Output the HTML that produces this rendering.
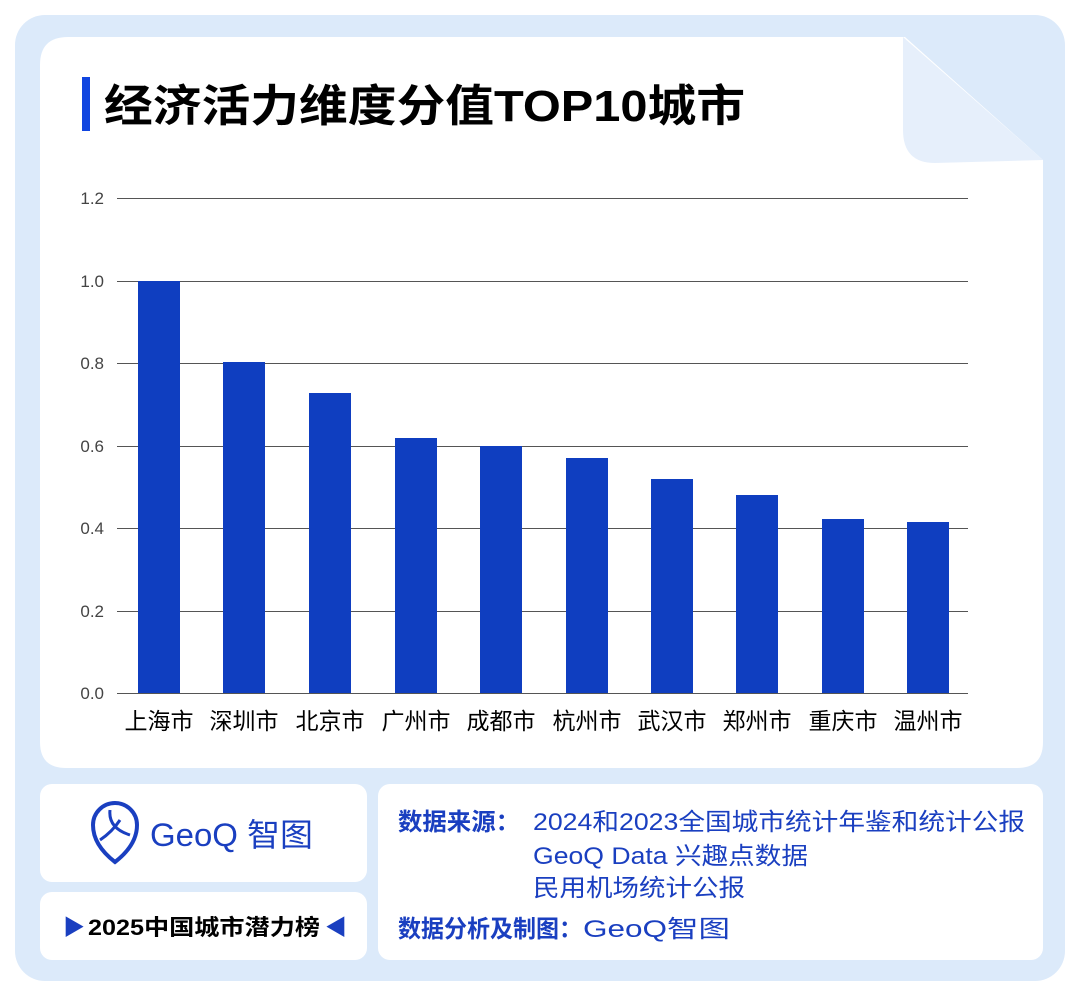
<!DOCTYPE html><html><head><meta charset="utf-8"><style>
body{margin:0;width:1080px;height:995px;background:#fff;position:relative;font-family:"Liberation Sans","Noto Sans CJK SC",sans-serif;overflow:hidden}
.a{position:absolute}
</style></head><body>
<div class="a" style="left:15px;top:15px;width:1050px;height:966px;background:#dceafa;border-radius:30px"></div>
<svg class="a" style="left:0;top:0" width="1080" height="995">
<path d="M68,37 L905,37 L1043,160 L1043,742 Q1043,768 1017,768 L66,768 Q40,768 40,742 L40,65 Q40,37 68,37Z" fill="#fff"/>
<path d="M903,37 L1043,160 L935,163 Q903,163 903,130Z" fill="#e6effb"/>
<rect x="82" y="77" width="8" height="54" fill="#1045e0"/>
<text x="104" y="121" font-size="44" font-weight="bold" fill="#000" textLength="641" lengthAdjust="spacingAndGlyphs" font-family="Liberation Sans,Noto Sans CJK SC,sans-serif">经济活力维度分值TOP10城市</text>
<g stroke="#555" stroke-width="1">
<line x1="117" y1="198.5" x2="968" y2="198.5"/><line x1="117" y1="281.5" x2="968" y2="281.5"/><line x1="117" y1="363.5" x2="968" y2="363.5"/><line x1="117" y1="446.5" x2="968" y2="446.5"/><line x1="117" y1="528.5" x2="968" y2="528.5"/><line x1="117" y1="611.5" x2="968" y2="611.5"/><line x1="117" y1="693.5" x2="968" y2="693.5"/>
</g>
<g font-size="17" fill="#444" text-anchor="end" font-family="Liberation Sans,sans-serif">
<text x="104" y="204">1.2</text><text x="104" y="287">1.0</text><text x="104" y="369">0.8</text><text x="104" y="452">0.6</text><text x="104" y="534">0.4</text><text x="104" y="617">0.2</text><text x="104" y="699">0.0</text>
</g>
<g fill="#0f3ec0">
<rect x="138" y="281" width="42" height="412"/><rect x="223" y="362" width="42" height="331"/><rect x="309" y="393" width="42" height="300"/><rect x="395" y="438" width="42" height="255"/><rect x="480" y="446" width="42" height="247"/><rect x="566" y="458" width="42" height="235"/><rect x="651" y="479" width="42" height="214"/><rect x="736" y="495" width="42" height="198"/><rect x="822" y="519" width="42" height="174"/><rect x="907" y="522" width="42" height="171"/>
</g>
<g font-size="23" fill="#000" text-anchor="middle" font-family="Liberation Sans,Noto Sans CJK SC,sans-serif">
<text x="159" y="729">上海市</text><text x="244" y="729">深圳市</text><text x="330" y="729">北京市</text><text x="416" y="729">广州市</text><text x="501" y="729">成都市</text><text x="587" y="729">杭州市</text><text x="672" y="729">武汉市</text><text x="757" y="729">郑州市</text><text x="843" y="729">重庆市</text><text x="928" y="729">温州市</text>
</g>
<rect x="40" y="784" width="327" height="98" rx="12" fill="#fff"/>
<rect x="40" y="892" width="327" height="68" rx="12" fill="#fff"/>
<rect x="378" y="784" width="665" height="176" rx="12" fill="#fff"/>
<path d="M115,803 A22,22 0 0 1 137,825 Q137,845 115,862 Q93,845 93,825 A22,22 0 0 1 115,803Z" fill="none" stroke="#1a3fc0" stroke-width="4"/>
<path d="M110,810 Q108,828 130,835 M100,840 Q112,832 120,820" fill="none" stroke="#1a3fc0" stroke-width="3"/>
<text x="150" y="846" font-size="32" fill="#1a3fc0" textLength="163" lengthAdjust="spacingAndGlyphs" font-family="Liberation Sans,Noto Sans CJK SC,sans-serif">GeoQ 智图</text>
<text x="63" y="935" font-size="22" fill="#1a3fc0">▶</text>
<text x="88" y="935" font-size="22" font-weight="bold" fill="#000" textLength="232" lengthAdjust="spacingAndGlyphs" font-family="Liberation Sans,Noto Sans CJK SC,sans-serif">2025中国城市潜力榜</text>
<text x="325" y="935" font-size="22" fill="#1a3fc0">◀</text>
<g font-size="24" fill="#1a3fc0" font-family="Liberation Sans,Noto Sans CJK SC,sans-serif" lengthAdjust="spacingAndGlyphs">
<text x="398" y="830" font-weight="bold" textLength="122" lengthAdjust="spacingAndGlyphs">数据来源：</text>
<text x="533" y="830" textLength="492" lengthAdjust="spacingAndGlyphs">2024和2023全国城市统计年鉴和统计公报</text>
<text x="533" y="864" textLength="275" lengthAdjust="spacingAndGlyphs">GeoQ Data 兴趣点数据</text>
<text x="533" y="896" textLength="212" lengthAdjust="spacingAndGlyphs">民用机场统计公报</text>
<text x="398" y="937" font-weight="bold" textLength="184" lengthAdjust="spacingAndGlyphs">数据分析及制图：</text>
<text x="583" y="937" textLength="147" lengthAdjust="spacingAndGlyphs">GeoQ智图</text>
</g>
</svg>
</body></html>
